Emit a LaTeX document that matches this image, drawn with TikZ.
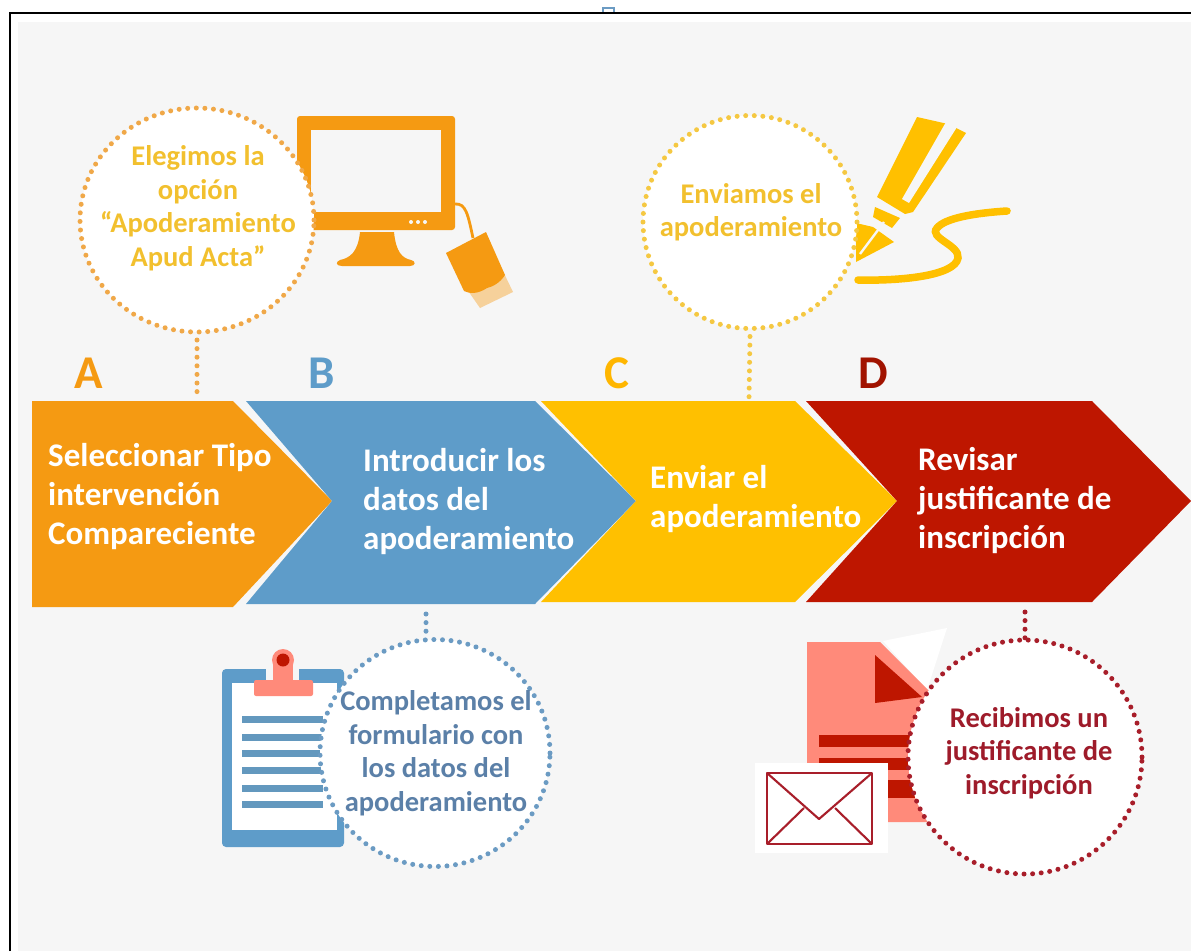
\documentclass[tikz,border=0pt]{standalone}
\usepackage{fontspec}
\setmainfont{Carlito}
\usetikzlibrary{shapes.geometric}
\definecolor{bgc}{HTML}{F6F6F6}
\definecolor{oran}{HTML}{F59A12}
\definecolor{blu}{HTML}{5E9CC9}
\definecolor{yel}{HTML}{FFC000}
\definecolor{redd}{HTML}{BE1600}
\definecolor{salm}{HTML}{FF8A7A}
\definecolor{txa}{HTML}{F2C02E}
\definecolor{txb}{HTML}{5B80A8}
\definecolor{txd}{HTML}{9E1B2A}
\definecolor{dotc}{HTML}{F0A848}
\definecolor{dotb}{HTML}{6B9BC3}
\definecolor{dotd}{HTML}{A81E2A}
\definecolor{doty}{HTML}{F5C842}
\tikzset{
  x=1pt,y=-1pt,
  bubble/.style={ellipse,fill=white,inner sep=0pt,outer sep=0pt,line width=5pt,line cap=round,dash pattern=on 0pt off 8.6pt},
  dotline/.style={line width=5pt,line cap=round,dash pattern=on 0pt off 8.6pt},
  bantext/.style={text=white,align=left,anchor=north west,inner sep=0pt,font=\bfseries\fontsize{33}{39}\selectfont},
  bubtext/.style={align=center,inner sep=0pt,font=\bfseries\fontsize{28.5}{33.5}\selectfont},
  letter/.style={inner sep=0pt,font=\bfseries\fontsize{47}{47}\selectfont}
}
\begin{document}
\begin{tikzpicture}
\useasboundingbox (0,0) rectangle (1191,951);
\clip (0,0) rectangle (1191,951);
\fill[white] (0,0) rectangle (1191,951);
\fill[bgc] (18,22) rectangle (1191,951);
% small mark above the frame
\draw[dotb,line width=1.4pt] (603,8) rectangle (614,18);
\fill[white] (600,13) rectangle (620,22);
% frame
\draw[black,line width=2pt] (10,951) -- (10,12.5) -- (1191,12.5);
% monitor
\fill[oran,rounded corners=3pt] (297,116) rectangle (455,230);
\fill[bgc] (311,130) rectangle (441,212);
\fill[oran] (360,232) .. controls (358,252) and (350,258) .. (340,260) .. controls (335,262) and (336,266) .. (342,266) -- (410,266) .. controls (416,266) and (416,261) .. (411,260) .. controls (402,258) and (396,252) .. (394,232) -- cycle;
\foreach \dx in {411,418,425} \fill[bgc] (\dx,222) circle (2);
\draw[oran,line width=2.8pt] (455,204) .. controls (466,203) and (468,215) .. (473,238);
\fill[oran!40!bgc] (500,265) -- (513,292) -- (480,308) -- (464,285) -- cycle;
\fill[oran] (446,253) -- (486,232) -- (505,275) .. controls (500,283) and (492,287) .. (487,288) .. controls (478,294) and (470,294) .. (464,291) -- cycle;
% pen
\fill[yel] (917,117) -- (948,124) -- (966,133) -- (913,212) -- (905,214) -- (877,197) -- cycle;
\fill[bgc] (946,122) -- (957,127) -- (909,203) -- (902,199) -- cycle;
\fill[yel] (875,207) -- (900,218) -- (892,228) -- (873,217) -- cycle;
\fill[yel] (856,223) -- (873,227) -- (894,242) -- (856,262) -- cycle;
\draw[bgc,line width=2.4pt] (860,254) -- (884,222);
\draw[yel,line width=7.5pt,line cap=round] (1007,211) .. controls (975,213) and (945,218) .. (937,228) .. controls (928,238) and (960,245) .. (958,258) .. controls (955,276) and (900,281) .. (858,280);
% clipboard
\fill[blu,rounded corners=4pt] (222,669) rectangle (344,847);
\fill[white] (232,683) rectangle (337,830);
\fill[bgc] (266,665) rectangle (299,683);
\foreach \ly in {719,737,753,770,788,804} \fill[blu!85!gray] (242,\ly-3.5) rectangle (323,\ly+3.5);
\fill[salm,rounded corners=2pt] (254,680) rectangle (313,696);
\fill[salm] (273,660) rectangle (293,684);
\fill[salm] (283,660) circle (11);
\fill[redd] (283,660) circle (6.5);
% document
\fill[white] (883,641) -- (947,628) -- (927,690) -- cycle;
\fill[salm] (807,642) -- (880,642) -- (930,692) -- (930,822) -- (807,822) -- cycle;
\fill[redd] (875,655) -- (922,697) -- (875,703) -- cycle;
\fill[redd] (819,735) rectangle (915,747);
\fill[redd] (819,758) rectangle (915,770);
\fill[redd] (819,780) rectangle (915,798);
% envelope
\fill[white] (755,763) rectangle (888,853);
\draw[dotd,line width=2.1pt,line join=round] (767,773) rectangle (872,844);
\draw[dotd,line width=2.1pt,line join=round] (767,773) -- (819,819) -- (872,773);
\draw[dotd,line width=2.1pt] (767,844) -- (804,808);
\draw[dotd,line width=2.1pt] (872,844) -- (835,808);
% banners
\fill[oran] (32,401) -- (233,401) -- (332,501) -- (233,607) -- (32,607) -- cycle;
\fill[blu] (246,401) -- (535,401) -- (636,501) -- (535,604) -- (246,604) -- (332,501) -- cycle;
\fill[yel] (541,401) -- (795,401) -- (897,501) -- (795,602) -- (541,602) -- (636,501) -- cycle;
\fill[redd] (806,401) -- (1092,401) -- (1191,501) -- (1092,602) -- (806,602) -- (897,501) -- cycle;
\coordinate (topA) at (197,399);
\coordinate (botB) at (426,606);
\coordinate (topC) at (749,399);
\coordinate (botD) at (1025,604);
% bubbles
\node[bubble,draw=dotc,minimum width=234pt,minimum height=224pt] (bubA) at (197,220) {};
\node[bubble,draw=doty,minimum width=214pt,minimum height=213pt] (bubC) at (750,222) {};
\node[bubble,draw=dotb,minimum width=230pt,minimum height=227pt] (bubB) at (435,753) {};
\node[bubble,draw=dotd,minimum width=234pt,minimum height=234pt] (bubD) at (1025,757) {};
% connectors
\draw[dotline,dotc] (bubA.south) ++(0,8) -- (topA);
\draw[dotline,doty] (bubC.south) ++(0,8) -- (topC);
\draw[dotline,dotb] (botB) ++(0,8) -- (bubB.north -| botB);
\draw[dotline,dotd] (botD) ++(0,8) -- (bubD.north);
% bubble texts
\node[bubtext,text=txa] (tA) at (198,208) {Elegimos la\\opción\\“Apoderamiento\\Apud Acta”};
\node[bubtext,text=txa] (tC) at (751,212) {Enviamos el\\apoderamiento};
\node[bubtext,text=txb] (tB) at (436,753) {Completamos el\\formulario con\\los datos del\\apoderamiento};
\node[bubtext,text=txd] (tD) at (1029,753) {Recibimos un\\justificante de\\inscripción};
% banner texts
\node[bantext] (bA) at (48,443) {Seleccionar Tipo\\intervención\\Compareciente};
\node[bantext] (bB) at (363,448) {Introducir los\\datos del\\apoderamiento};
\node[bantext] (bC) at (650,465) {Enviar el\\apoderamiento};
\node[bantext] (bD) at (918,447) {Revisar\\justificante de\\inscripción};
% letters
\node[letter,text=oran] (lA) at (89,373) {A};
\node[letter,text=blu] (lB) at (322,373) {B};
\node[letter,text=yel!85!orange] (lC) at (617,373) {C};
\node[letter,text=redd!85!black] (lD) at (873,373) {D};
\end{tikzpicture}
\end{document}
